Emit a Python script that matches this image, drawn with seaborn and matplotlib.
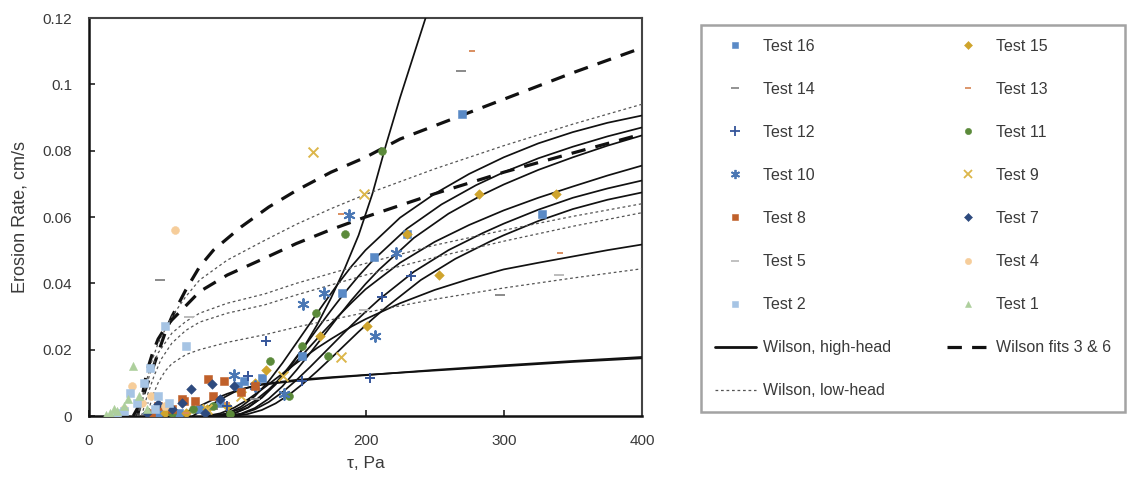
import matplotlib
matplotlib.use("Agg")
import matplotlib.pyplot as plt
import seaborn as sns
from matplotlib.lines import Line2D

# ---------------------------------------------------------------- measured points
t16_tau = [270, 328, 230, 206, 183, 154, 125, 108, 95, 80, 65, 50, 112]
t16_rate = [0.091, 0.061, 0.055, 0.048, 0.037, 0.018, 0.0115, 0.009, 0.004, 0.002, 0.001, 0.0005, 0.0105]

t15_tau = [338, 282, 253, 230, 201, 167, 128, 120, 100, 85, 70, 55]
t15_rate = [0.067, 0.067, 0.0425, 0.055, 0.027, 0.024, 0.014, 0.010, 0.003, 0.002, 0.001, 0.0008]

t14_tau = [269, 51, 297, 120, 90]
t14_rate = [0.104, 0.041, 0.0366, 0.005, 0.002]

t13_tau = [277, 341, 182, 100, 70]
t13_rate = [0.110, 0.049, 0.061, 0.004, 0.001]

t12_tau = [233, 212, 203, 154, 128, 115, 100]
t12_rate = [0.0423, 0.036, 0.0115, 0.0105, 0.0227, 0.012, 0.003]

t11_tau = [212, 185, 173, 164, 154, 145, 131, 102, 90, 75, 60]
t11_rate = [0.080, 0.055, 0.018, 0.031, 0.021, 0.006, 0.0165, 0.0005, 0.003, 0.002, 0.001]

t10_tau = [188, 207, 222, 170, 155, 141, 105, 120]
t10_rate = [0.0605, 0.024, 0.049, 0.037, 0.0338, 0.0066, 0.0125, 0.009]

t9_tau = [162, 199, 182, 140, 110, 85]
t9_rate = [0.0795, 0.067, 0.0178, 0.012, 0.006, 0.002]

t8_tau = [86, 98, 110, 69, 77, 60, 50, 45, 90, 120, 67]
t8_rate = [0.0112, 0.0105, 0.0073, 0.0045, 0.0045, 0.002, 0.003, 0.001, 0.006, 0.009, 0.005]

t7_tau = [74, 89, 84, 60, 50, 42, 95, 105, 67]
t7_rate = [0.008, 0.0097, 0.001, 0.002, 0.0035, 0.001, 0.005, 0.009, 0.004]

t5_tau = [72, 199, 340, 40]
t5_rate = [0.030, 0.032, 0.0425, 0.004]

t4_tau = [62, 31, 45, 38, 25, 55]
t4_rate = [0.056, 0.009, 0.006, 0.004, 0.002, 0.003]

t2_tau = [55, 70, 44, 40, 50, 35, 25, 20, 30, 48, 58]
t2_rate = [0.027, 0.021, 0.0145, 0.010, 0.006, 0.004, 0.0015, 0.0008, 0.007, 0.002, 0.004]

t1_tau = [32, 25, 20, 15, 12, 28, 36, 42, 18]
t1_rate = [0.015, 0.003, 0.0015, 0.0008, 0.0003, 0.005, 0.006, 0.002, 0.002]

# ---------------------------------------------------------------- Wilson model curves
# high-head fits (solid)
hh1_tau = [90, 100, 110, 120, 130, 140, 150, 160, 170, 180, 190, 200, 225, 250, 275, 300, 325, 350, 375, 400]
hh1_rate = [0.000, 0.0008, 0.0028, 0.0060, 0.0105, 0.0160, 0.0220, 0.0280, 0.0340, 0.0398, 0.0452, 0.0500,
            0.0598, 0.0670, 0.0730, 0.0780, 0.0822, 0.0856, 0.0884, 0.0906]
hh2_tau = [95, 105, 115, 125, 135, 145, 155, 165, 175, 185, 195, 205, 230, 255, 280, 300, 325, 350, 375, 400]
hh2_rate = [0.000, 0.0008, 0.0026, 0.0056, 0.0098, 0.0150, 0.0205, 0.0262, 0.0318, 0.0372, 0.0422, 0.0468,
            0.0565, 0.0638, 0.0696, 0.0735, 0.0777, 0.0812, 0.0843, 0.0870]
hh3_tau = [100, 110, 120, 130, 140, 150, 160, 170, 180, 190, 200, 210, 235, 260, 285, 300, 325, 350, 375, 400]
hh3_rate = [0.000, 0.0007, 0.0024, 0.0052, 0.0090, 0.0138, 0.0190, 0.0244, 0.0298, 0.0350, 0.0398, 0.0442,
            0.0537, 0.0610, 0.0668, 0.0698, 0.0742, 0.0780, 0.0815, 0.0846]
hh4_tau = [90, 100, 110, 120, 130, 140, 150, 160, 170, 180, 190, 200, 225, 250, 275, 300, 325, 350, 375, 400]
hh4_rate = [0.000, 0.0007, 0.0022, 0.0046, 0.0080, 0.0120, 0.0164, 0.0210, 0.0256, 0.0300, 0.0342, 0.0382,
            0.0462, 0.0525, 0.0576, 0.0620, 0.0658, 0.0692, 0.0725, 0.0755]
hh5_tau = [100, 110, 120, 130, 140, 150, 160, 170, 180, 190, 200, 210, 235, 260, 285, 300, 325, 350, 375, 400]
hh5_rate = [0.000, 0.0006, 0.0020, 0.0042, 0.0072, 0.0108, 0.0148, 0.0190, 0.0232, 0.0274, 0.0314, 0.0352,
            0.0435, 0.0500, 0.0552, 0.0580, 0.0622, 0.0658, 0.0686, 0.0710]
hh6_tau = [105, 115, 125, 135, 145, 155, 165, 175, 185, 195, 205, 215, 240, 265, 290, 300, 325, 350, 375, 400]
hh6_rate = [0.000, 0.0006, 0.0018, 0.0038, 0.0065, 0.0098, 0.0135, 0.0174, 0.0214, 0.0254, 0.0292, 0.0328,
            0.0410, 0.0474, 0.0526, 0.0545, 0.0588, 0.0624, 0.0652, 0.0674]
hh7_tau = [85, 95, 105, 115, 125, 135, 145, 155, 165, 175, 190, 200, 225, 250, 275, 300, 325, 350, 375, 400]
hh7_rate = [0.000, 0.0008, 0.0025, 0.0050, 0.0080, 0.0112, 0.0144, 0.0175, 0.0205, 0.0232, 0.0270, 0.0292,
            0.0340, 0.0380, 0.0413, 0.0442, 0.0462, 0.0481, 0.0500, 0.0517]
hh8_tau = [95, 105, 115, 125, 135, 145, 155, 165, 175, 185, 195, 205, 215, 225, 235, 245]
hh8_rate = [0.000, 0.0008, 0.0025, 0.0055, 0.0095, 0.0145, 0.0205, 0.0275, 0.0355, 0.0445, 0.0545, 0.0670,
            0.0820, 0.0960, 0.1090, 0.1220]
hh9_tau = [60, 70, 80, 90, 100, 110, 125, 150, 175, 200, 250, 300, 350, 400]
hh9_rate = [0.000, 0.0012, 0.0030, 0.0050, 0.0067, 0.0081, 0.0094, 0.0106, 0.0115, 0.0123, 0.0139, 0.0153,
            0.0166, 0.0178]
hh10_tau = [75, 85, 95, 105, 115, 125, 150, 175, 200, 250, 300, 350, 400]
hh10_rate = [0.000, 0.0025, 0.0050, 0.0072, 0.0086, 0.0096, 0.0109, 0.0117, 0.0124, 0.0137, 0.0150, 0.0163, 0.0174]

# fits to tests 3 and 6 (dashed)
f3_tau = [32, 36, 40, 45, 50, 55, 60, 70, 80, 90, 110, 130, 150, 175, 200, 225, 250, 275, 300, 350, 400]
f3_rate = [0.000, 0.003, 0.007, 0.013, 0.019, 0.025, 0.030, 0.038, 0.045, 0.050, 0.057, 0.063, 0.068, 0.0735,
           0.0780, 0.0835, 0.0875, 0.0915, 0.0955, 0.1035, 0.1110]
f6_tau = [35, 38, 42, 46, 50, 55, 60, 66, 73, 80, 90, 100, 125, 150, 175, 200, 250, 300, 350, 400]
f6_rate = [0.000, 0.005, 0.0136, 0.019, 0.0232, 0.0265, 0.0290, 0.0315, 0.0345, 0.0375, 0.0400, 0.0425, 0.0472,
           0.0520, 0.0562, 0.0600, 0.0670, 0.0735, 0.0793, 0.0850]

# low-head fits (dotted)
lh1_tau = [35, 40, 45, 50, 60, 70, 80, 100, 125, 150, 175, 200, 250, 300, 350, 400]
lh1_rate = [0.000, 0.008, 0.016, 0.022, 0.030, 0.036, 0.041, 0.047, 0.0525, 0.0578, 0.0625, 0.0668, 0.0745,
            0.0815, 0.0880, 0.0940]
lh2_tau = [36, 40, 45, 50, 60, 70, 80, 100, 127, 150, 200, 250, 300, 350, 400]
lh2_rate = [0.000, 0.007, 0.014, 0.019, 0.025, 0.0285, 0.031, 0.034, 0.0368, 0.040, 0.046, 0.0515, 0.0560,
            0.0602, 0.0640]
lh3_tau = [38, 42, 47, 52, 60, 70, 80, 100, 127, 150, 200, 250, 300, 350, 400]
lh3_rate = [0.000, 0.006, 0.012, 0.017, 0.022, 0.0258, 0.0283, 0.0310, 0.0335, 0.0365, 0.0425, 0.0478, 0.0527,
            0.0572, 0.0613]
lh4_tau = [42, 46, 50, 55, 60, 70, 80, 100, 127, 150, 200, 250, 300, 350, 400]
lh4_rate = [0.000, 0.006, 0.010, 0.0135, 0.0158, 0.0185, 0.0200, 0.0222, 0.0245, 0.0268, 0.0312, 0.0352,
            0.0386, 0.0416, 0.0444]

x_ticks = [0, 100, 200, 300, 400]
y_ticks = [0, 0.02, 0.04, 0.06, 0.08, 0.10, 0.12]
y_tick_labels = ["0", "0.02", "0.04", "0.06", "0.08", "0.1", "0.12"]

# ---------------------------------------------------------------- styling
sns.set_theme(style="white")
plt.rcParams["font.family"] = ["Liberation Sans", "DejaVu Sans"]
text_color = "#3a3a3a"

fig = plt.figure(figsize=(11.37, 4.82), dpi=100)
ax = fig.add_axes([89 / 1137, 1 - 416 / 482, (642 - 89) / 1137, (416 - 18) / 482])

solid_kw = dict(color="#111111", lw=1.25, zorder=3)
dash_kw = dict(color="#111111", lw=2.3, linestyle=(0, (4.5, 3.2)), zorder=3)
dot_kw = dict(color="#555555", lw=0.9, linestyle=(0, (2.2, 2.2)), zorder=3)

for tau, rate in [(hh1_tau, hh1_rate), (hh2_tau, hh2_rate), (hh3_tau, hh3_rate), (hh4_tau, hh4_rate),
                  (hh5_tau, hh5_rate), (hh6_tau, hh6_rate), (hh7_tau, hh7_rate), (hh8_tau, hh8_rate),
                  (hh9_tau, hh9_rate), (hh10_tau, hh10_rate)]:
    sns.lineplot(x=tau, y=rate, ax=ax, sort=False, estimator=None, **solid_kw)
for tau, rate in [(f3_tau, f3_rate), (f6_tau, f6_rate)]:
    sns.lineplot(x=tau, y=rate, ax=ax, sort=False, estimator=None, **dash_kw)
for tau, rate in [(lh1_tau, lh1_rate), (lh2_tau, lh2_rate), (lh3_tau, lh3_rate), (lh4_tau, lh4_rate)]:
    sns.lineplot(x=tau, y=rate, ax=ax, sort=False, estimator=None, **dot_kw)

asterisk = (6, 2, 0)
tests = [
    # label, tau, rate, marker, colour, size, filled
    ("Test 16", t16_tau, t16_rate, "s", "#5a8ac6", 34, True),
    ("Test 15", t15_tau, t15_rate, "D", "#cfa42c", 24, True),
    ("Test 14", t14_tau, t14_rate, "_", "#8a8a8a", 45, False),
    ("Test 13", t13_tau, t13_rate, "_", "#d98e60", 18, False),
    ("Test 12", t12_tau, t12_rate, "+", "#35559a", 60, False),
    ("Test 11", t11_tau, t11_rate, "o", "#5b8a3a", 32, True),
    ("Test 10", t10_tau, t10_rate, asterisk, "#4a77b4", 60, False),
    ("Test 9", t9_tau, t9_rate, "x", "#dcb64a", 50, False),
    ("Test 8", t8_tau, t8_rate, "s", "#c0602a", 34, True),
    ("Test 7", t7_tau, t7_rate, "D", "#2d4a7e", 24, True),
    ("Test 5", t5_tau, t5_rate, "_", "#bcbcbc", 45, False),
    ("Test 4", t4_tau, t4_rate, "o", "#f6cd9a", 32, True),
    ("Test 2", t2_tau, t2_rate, "s", "#a6c4e4", 34, True),
    ("Test 1", t1_tau, t1_rate, "^", "#adcf9c", 34, True),
]

handles = {}
for label, tau, rate, marker, colour, size, filled in tests:
    if filled:
        sns.scatterplot(x=tau, y=rate, ax=ax, marker=marker, s=size, color=colour,
                        edgecolor=colour, linewidth=0.4, legend=False, zorder=4)
    else:
        sns.scatterplot(x=tau, y=rate, ax=ax, marker=marker, s=size, color=colour,
                        linewidth=1.4, legend=False, zorder=4)
    ms = size ** 0.5 * (0.8 if filled else 0.85)
    handles[label] = Line2D([], [], linestyle="none", marker=marker, markersize=ms,
                            color=colour, markeredgecolor=colour,
                            markeredgewidth=0.4 if filled else 1.3)

handles["Wilson, high-head"] = Line2D([], [], **{k: v for k, v in solid_kw.items() if k != "zorder"} | {"lw": 2.0})
handles["Wilson fits 3 & 6"] = Line2D([], [], **{k: v for k, v in dash_kw.items() if k != "zorder"})
handles["Wilson, low-head"] = Line2D([], [], **{k: v for k, v in dot_kw.items() if k != "zorder"})

ax.set_xlim(0, 400)
ax.set_ylim(0, 0.12)
ax.set_xticks(x_ticks)
ax.set_xticklabels([str(v) for v in x_ticks])
ax.set_yticks(y_ticks)
ax.set_yticklabels(y_tick_labels)
ax.tick_params(direction="in", length=4, width=1.2, colors="#222222", labelcolor=text_color,
               labelsize=11, pad=12, bottom=True, left=True)
ax.tick_params(axis="x", pad=13)
for side in ["left", "bottom"]:
    ax.spines[side].set_color("#111111")
    ax.spines[side].set_linewidth(1.8)
for side in ["top", "right"]:
    ax.spines[side].set_color("#444444")
    ax.spines[side].set_linewidth(1.5)

ax.set_xlabel("τ, Pa", fontsize=12.5, color=text_color, labelpad=6)
ax.set_ylabel("Erosion Rate, cm/s", fontsize=13, color=text_color, labelpad=10)

order = ["Test 16", "Test 14", "Test 12", "Test 10", "Test 8", "Test 5", "Test 2",
         "Wilson, high-head", "Wilson, low-head",
         "Test 15", "Test 13", "Test 11", "Test 9", "Test 7", "Test 4", "Test 1",
         "Wilson fits 3 & 6"]
leg = fig.legend([handles[k] for k in order], order, ncol=2, loc="upper left",
                 bbox_to_anchor=(701 / 1137, 1 - 25 / 482), bbox_transform=fig.transFigure,
                 fontsize=11.5, frameon=True, fancybox=False, borderpad=0.85,
                 labelspacing=1.76, handlelength=2.6, handletextpad=0.45,
                 columnspacing=3.5, borderaxespad=0)
leg.get_frame().set_edgecolor("#8c8c8c")
leg.get_frame().set_linewidth(1.8)
for t in leg.get_texts():
    t.set_color(text_color)

fig.savefig("out.png", dpi=100)
